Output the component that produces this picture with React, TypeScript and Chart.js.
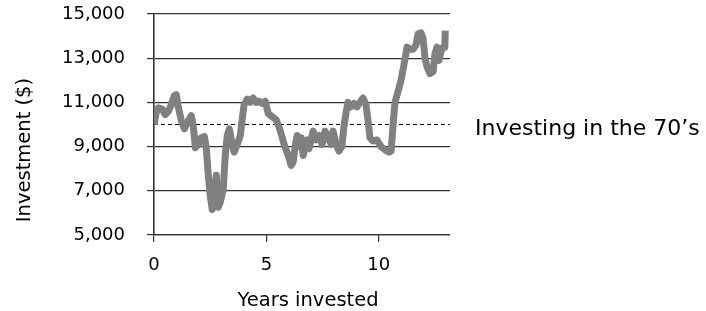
import React, { useEffect, useRef } from 'react';
import { Chart, registerables } from 'chart.js';

Chart.register(...registerables);

// ---- data ----
const years = [
  0, 0.1, 0.19, 0.37, 0.5, 0.64, 0.77, 0.9, 0.99, 1.08, 1.21, 1.35, 1.48, 1.66, 1.75, 1.84,
  1.97, 2.1, 2.24, 2.32, 2.41, 2.5, 2.59, 2.68, 2.77, 2.86, 2.95, 3.08, 3.17, 3.26, 3.35,
  3.44, 3.57, 3.7, 3.84, 3.93, 4.01, 4.15, 4.28, 4.41, 4.55, 4.68, 4.81, 4.95, 5.08, 5.26,
  5.44, 5.61, 5.79, 5.97, 6.1, 6.19, 6.28, 6.37, 6.46, 6.55, 6.64, 6.73, 6.82, 6.9, 6.99,
  7.08, 7.21, 7.35, 7.48, 7.61, 7.75, 7.88, 7.97, 8.1, 8.23, 8.36, 8.45, 8.54, 8.63, 8.76,
  8.9, 9.03, 9.16, 9.3, 9.43, 9.52, 9.61, 9.75, 9.92, 10.1, 10.28, 10.46, 10.55, 10.64,
  10.72, 10.86, 10.99, 11.12, 11.26, 11.39, 11.52, 11.66, 11.75, 11.88, 11.97, 12.06,
  12.15, 12.28, 12.42, 12.5, 12.59, 12.68, 12.77, 12.86, 12.94, 12.96,
];
const values = [
  10000, 10550, 10750, 10700, 10450, 10600, 10900, 11300, 11350, 10800, 10200, 9800, 10100,
  10400, 9900, 8950, 9100, 9400, 9450, 9000, 7800, 6800, 6150, 6900, 7700, 6250, 6500, 7050,
  8600, 9500, 9800, 9300, 8750, 9100, 9500, 10300, 10900, 11150, 11000, 11200, 11000, 11050,
  10950, 11050, 10500, 10350, 10200, 9750, 9100, 8600, 8150, 8300, 9000, 9500, 9000, 9400,
  8600, 9100, 9300, 8900, 9300, 9700, 9300, 9500, 9100, 9700, 9450, 9100, 9700, 9100, 8800,
  9000, 9900, 10500, 11000, 10800, 10950, 10800, 11000, 11200, 10900, 10200, 9400, 9250,
  9300, 9000, 8850, 8750, 8800, 10000, 11000, 11500, 12000, 12700, 13500, 13400, 13400,
  13600, 14100, 14150, 13900, 13000, 12600, 12300, 12400, 13200, 13500, 12900, 13300, 13500,
  13500, 14250,
];
const yTicks = [5000, 7000, 9000, 11000, 13000, 15000];
const xTicks = [0, 5, 10];
const xMax = 13.17;
const referenceLevel = 10000;
const seriesLabel = 'Investing in the 70\u2019s';
const xTitle = 'Years invested';
const yTitle = 'Investment ($)';

const FONT = '"DejaVu Sans", sans-serif';

const textPlugin = {
  id: 'extraTexts',
  afterDraw(chart: any) {
    const { ctx, chartArea, scales } = chart;
    ctx.save();
    ctx.fillStyle = '#000';
    ctx.font = `22px ${FONT}`;
    ctx.textAlign = 'left';
    ctx.textBaseline = 'alphabetic';
    const yPix = scales.y.getPixelForValue(referenceLevel);
    ctx.fillText(seriesLabel, chartArea.right + 25, yPix + 10);
    ctx.font = `19.5px ${FONT}`;
    ctx.textAlign = 'center';
    ctx.fillText(xTitle, 308, 305.5);
    ctx.translate(29.5, 150);
    ctx.rotate(-Math.PI / 2);
    ctx.fillText(yTitle, 0, 0);
    ctx.restore();
  },
};

export default function App() {
  const ref = useRef<HTMLCanvasElement | null>(null);

  useEffect(() => {
    if (!ref.current) return;
    const series = years.map((x, i) => ({ x, y: values[i] }));
    const refLine = [
      { x: 0, y: referenceLevel },
      { x: xMax, y: referenceLevel },
    ];
    const chart = new Chart(ref.current, {
      type: 'line',
      data: {
        datasets: [
          {
            data: series,
            borderColor: '#808080',
            borderWidth: 7,
            pointRadius: 0,
            tension: 0,
            borderJoinStyle: 'round',
            borderCapStyle: 'butt',
          },
          {
            data: refLine,
            borderColor: '#000',
            borderWidth: 1,
            borderDash: [4, 3],
            pointRadius: 0,
          },
        ],
      },
      options: {
        animation: false,
        responsive: false,
        devicePixelRatio: 1,
        layout: { padding: { top: 14, right: 256, left: 0, bottom: 0 } },
        plugins: {
          legend: { display: false },
          tooltip: { enabled: false },
        },
        scales: {
          x: {
            type: 'linear',
            min: 0,
            max: xMax,
            afterFit: (s: any) => {
              s.height = 76;
              s.paddingLeft = 0;
              s.paddingRight = 0;
              s.paddingTop = 0;
              s.paddingBottom = 0;
            },
            ticks: {
              stepSize: xTicks[1] - xTicks[0],
              includeBounds: false,
              padding: 13,
              color: '#000',
              font: { family: FONT, size: 18 },
              maxRotation: 0,
            },
            grid: {
              drawOnChartArea: false,
              drawTicks: true,
              tickLength: 7,
              color: '#333',
              lineWidth: 1.2,
            },
            border: { display: true, color: '#333', width: 1.2 },
          },
          y: {
            min: yTicks[0],
            max: yTicks[yTicks.length - 1],
            afterFit: (s: any) => {
              s.width = 154;
              s.paddingLeft = 0;
              s.paddingRight = 0;
              s.paddingTop = 0;
              s.paddingBottom = 0;
            },
            ticks: {
              stepSize: yTicks[1] - yTicks[0],
              padding: 22,
              color: '#000',
              font: { family: FONT, size: 18 },
              callback: (v: any) => Number(v).toLocaleString('en-US'),
            },
            grid: {
              drawTicks: true,
              tickLength: 7,
              color: '#333',
              lineWidth: 1.2,
            },
            border: { display: true, color: '#333', width: 1.6 },
          },
        },
      },
      plugins: [textPlugin],
    });
    return () => chart.destroy();
  }, []);

  return (
    <div style={{ position: 'fixed', left: 0, top: 0, width: 706, height: 311, background: '#fff' }}>
      <canvas ref={ref} width={706} height={311} style={{ display: 'block' }} />
    </div>
  );
}
